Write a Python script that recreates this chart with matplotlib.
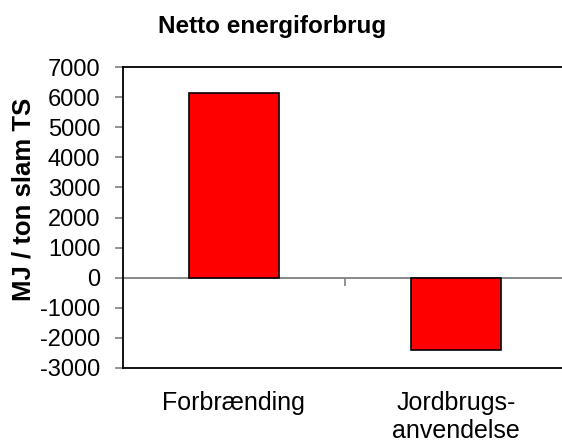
import matplotlib
matplotlib.use("Agg")
import matplotlib.pyplot as plt

categories = ["Forbrænding", "Jordbrugs-\nanvendelse"]
values = [6130, -2400]
yticks = [7000, 6000, 5000, 4000, 3000, 2000, 1000, 0, -1000, -2000, -3000]
title = "Netto energiforbrug"
ylabel = "MJ / ton slam TS"

plt.rcParams['font.family'] = ['Liberation Sans', 'DejaVu Sans']

fig = plt.figure(figsize=(5.62, 4.47), dpi=100)
W, H = 562, 447
left, right, top, bottom = 122.7, 567.3, 67.3, 367.7
ax = fig.add_axes([left / W, 1 - bottom / H, (right - left) / W, (bottom - top) / H])

x = list(range(len(categories)))
ax.bar(x, values, width=0.405, color="#FF0000", edgecolor="black", linewidth=1.2, zorder=3)

ax.set_xlim(-0.5, len(categories) - 0.5)
ymin, ymax = min(yticks), max(yticks)
ax.set_ylim(ymin, ymax)
ax.set_yticks(yticks)
ax.set_yticklabels([str(t) for t in yticks])
ax.tick_params(axis='y', direction='out', length=6, width=1.2, color='#808080',
               labelsize=17, pad=10)
ax.set_xticks(x)
ax.set_xticklabels(categories, fontsize=18, linespacing=1.2)
ax.tick_params(axis='x', length=0, pad=17)

for s in ['top', 'bottom', 'left']:
    ax.spines[s].set_color('black')
    ax.spines[s].set_linewidth(1.3)
ax.spines['right'].set_visible(False)

# zero line with category separator tick
zero_frac = (0 - ymin) / (ymax - ymin)
sec = ax.secondary_xaxis(zero_frac)
sec.set_xticks([0.5])
sec.set_xticklabels([])
sec.tick_params(direction='out', length=6, width=1.2, color='#808080')
sec.spines['bottom'].set_color('#808080')
sec.spines['bottom'].set_linewidth(1.3)
sec.spines['bottom'].set_zorder(2)

fig.text(272 / W, 1 - 33 / H, title, ha='center', va='baseline',
         fontsize=17.5, fontweight='bold')
fig.text(24 / W, 1 - 199 / H, ylabel, ha='center', va='center', rotation=90,
         fontsize=18.5, fontweight='bold')

fig.savefig("out.png", dpi=100)
